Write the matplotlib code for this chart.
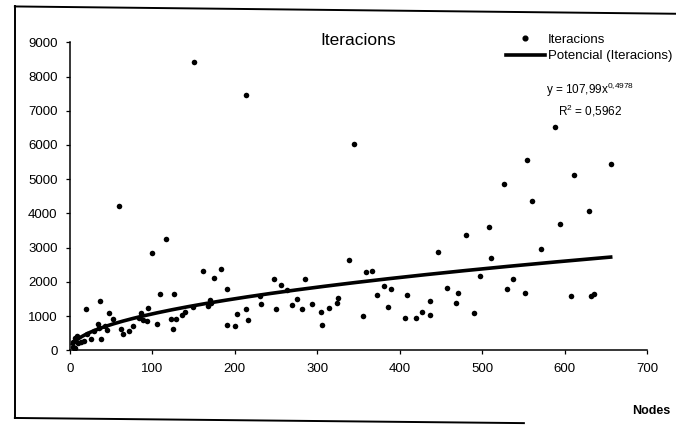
import matplotlib

matplotlib.use("Agg")
import matplotlib.pyplot as plt
import numpy as np
from matplotlib.lines import Line2D

plt.rcParams["font.family"] = ["Liberation Sans", "DejaVu Sans"]

# Nodes / iterations
NODES = [
    151, 214, 60, 344, 588, 554, 656, 526, 612, 561, 630, 594, 572, 537, 530,
    552, 608, 632, 636, 508, 481, 338, 447, 511, 359, 367, 498, 381, 389, 458,
    372, 409, 471, 437, 386, 468, 427, 356, 406, 420, 437, 490,
    183, 175, 190, 248, 256, 285, 263, 170, 231, 232, 275, 269, 325, 324, 294,
    213, 203, 250, 281, 314, 304, 216, 191, 200, 306,
    117, 99, 161, 109, 126, 19, 36, 47, 52, 84, 95, 86, 88, 93, 106, 122, 129,
    125, 136, 139, 149, 167, 171, 34, 35, 62, 64, 71, 77, 37, 26, 13, 17, 6, 8,
    3, 6, 4, 10, 5, 21, 29, 45, 42,
]
ITERACIONS = [
    8420, 7450, 4220, 6030, 6540, 5550, 5440, 4860, 5110, 4370, 4080, 3700, 2970,
    2085, 1800, 1670, 1595, 1595, 1645, 3610, 3375, 2650, 2870, 2690, 2290, 2320,
    2180, 1880, 1795, 1830, 1630, 1610, 1680, 1430, 1280, 1380, 1135, 1020, 955,
    955, 1040, 1105,
    2380, 2130, 1805, 2090, 1915, 2075, 1775, 1465, 1590, 1350, 1490, 1340, 1530,
    1375, 1360, 1200, 1060, 1210, 1200, 1245, 1120, 875, 730, 720, 750,
    3260, 2845, 2320, 1640, 1650, 1215, 1430, 1080, 930, 955, 1230, 1100, 885,
    860, 780, 925, 925, 620, 1045, 1135, 1280, 1305, 1385, 765, 655, 630, 475,
    555, 715, 325, 340, 235, 265, 360, 410, 115, 65, 260, 215, 60, 490, 560,
    600, 720,
]

# power trendline as printed on the chart
TREND_A = 107.99
TREND_B = 0.4978
R2 = 0.5962

X_TICKS = list(range(0, 701, 100))
Y_TICKS = list(range(0, 9001, 1000))


def main():
    fig = plt.figure(figsize=(6.76, 4.30), dpi=100)
    ax = fig.add_axes([0.1036, 0.185, 0.8534, 0.7167])

    x = np.array(NODES, dtype=float)
    y = np.array(ITERACIONS, dtype=float)
    ax.scatter(x, y, s=16, color="black", linewidths=0, zorder=3)

    xs = np.linspace(x.min(), x.max(), 300)
    ax.plot(xs, TREND_A * xs ** TREND_B, color="black", linewidth=2.6, zorder=4)

    ax.set_xlim(0, 700)
    ax.set_ylim(0, 9000)
    ax.set_xticks(X_TICKS)
    ax.set_yticks(Y_TICKS)
    ax.tick_params(labelsize=9.5, length=3, width=0.9, colors="black", pad=6)
    for spine in ("top", "right"):
        ax.spines[spine].set_visible(False)
    for spine in ("left", "bottom"):
        ax.spines[spine].set_linewidth(1.1)

    ax.set_title("Iteracions", fontsize=12.5, pad=-2, y=1.0)
    fig.text(0.991, 0.045, "Nodes", ha="right", va="center",
             fontsize=9, fontweight="bold")

    handles = [
        Line2D([], [], marker="o", linestyle="none", color="black", markersize=3.4),
        Line2D([], [], color="black", linewidth=2.6),
    ]
    fig.legend(handles, ["Iteracions", "Potencial (Iteracions)"],
               loc="upper right", bbox_to_anchor=(1.012, 0.95), frameon=False,
               fontsize=9.5, handlelength=3.0, handletextpad=0.2, labelspacing=0.35)

    fig.text(0.873, 0.79, r"y = 107,99x$^{\mathregular{0{,}4978}}$",
             ha="center", va="center", fontsize=8.5)
    fig.text(0.873, 0.743, r"R$^{\mathregular{2}}$ = " + f"{R2}".replace(".", ","),
             ha="center", va="center", fontsize=8.5)

    # chart-area frame of the scanned sheet
    frame = dict(color="black", linewidth=1.4, transform=fig.transFigure)
    fig.add_artist(Line2D([0.022, 0.022], [0.028, 0.985], **frame))
    fig.add_artist(Line2D([0.022, 1.0], [0.985, 0.968], **frame))
    fig.add_artist(Line2D([0.022, 0.775], [0.028, 0.016], **frame))

    fig.savefig("out.png", facecolor="white")
    plt.close(fig)


if __name__ == "__main__":
    main()
